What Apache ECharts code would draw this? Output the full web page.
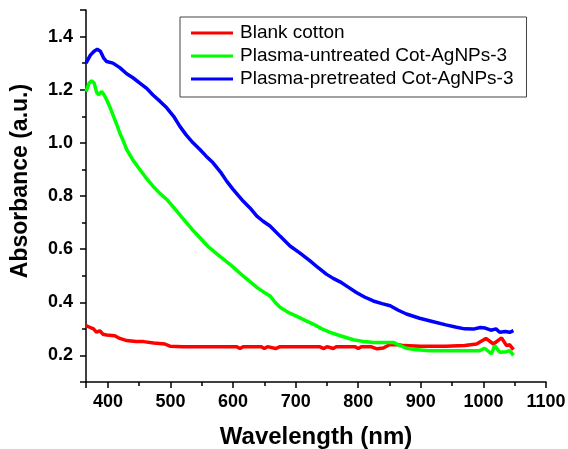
<!DOCTYPE html>
<html>
<head>
<meta charset="utf-8">
<script src="https://cdn.jsdelivr.net/npm/echarts@6/dist/echarts.min.js"></script>
<style>
  html, body { margin: 0; padding: 0; background: #fff; }
  #chart { width: 568px; height: 449px; }
</style>
</head>
<body>
<div id="chart"></div>
<script>
// series names
var seriesNames = ['Blank cotton', 'Plasma-untreated Cot-AgNPs-3', 'Plasma-pretreated Cot-AgNPs-3'];

// blank cotton (red)
var blankWl  = [365, 371, 377, 382, 387, 392, 398, 411, 419, 430, 445, 457, 473, 491, 499, 520, 560, 606, 611, 616, 645, 650, 655, 668, 675, 730, 733, 738, 745, 750, 760, 765, 795, 800, 805, 820, 830, 840, 850, 865, 872, 900, 940, 970, 989, 1004, 1016, 1029, 1037, 1042, 1048];
var blankAbs = [0.312, 0.306, 0.300, 0.287, 0.293, 0.280, 0.277, 0.274, 0.264, 0.256, 0.252, 0.252, 0.247, 0.243, 0.235, 0.233, 0.233, 0.233, 0.226, 0.233, 0.233, 0.226, 0.233, 0.226, 0.233, 0.233, 0.226, 0.233, 0.226, 0.233, 0.226, 0.233, 0.233, 0.226, 0.233, 0.233, 0.225, 0.228, 0.240, 0.240, 0.237, 0.235, 0.235, 0.237, 0.243, 0.264, 0.243, 0.266, 0.237, 0.240, 0.222];

// plasma-untreated (green)
var untreatedWl  = [365, 370, 374, 378, 382, 385, 390, 394, 398, 404, 409, 414, 419, 425, 430, 440, 451, 462, 472, 483, 494, 505, 520, 535, 547, 560, 575, 595, 606, 616, 627, 638, 648, 659, 667, 675, 688, 702, 715, 728, 742, 755, 770, 792, 810, 824, 840, 856, 867, 877, 890, 914, 950, 994, 1002, 1013, 1018, 1026, 1037, 1042, 1048];
var untreatedAbs = [1.193, 1.225, 1.234, 1.225, 1.190, 1.181, 1.193, 1.180, 1.162, 1.130, 1.100, 1.070, 1.037, 1.005, 0.975, 0.935, 0.900, 0.865, 0.837, 0.810, 0.787, 0.757, 0.715, 0.673, 0.643, 0.610, 0.580, 0.543, 0.520, 0.499, 0.478, 0.456, 0.440, 0.424, 0.400, 0.381, 0.362, 0.347, 0.332, 0.318, 0.300, 0.287, 0.275, 0.259, 0.252, 0.249, 0.249, 0.249, 0.237, 0.227, 0.222, 0.218, 0.218, 0.218, 0.227, 0.206, 0.237, 0.212, 0.214, 0.218, 0.200];

// plasma-pretreated (blue)
var pretreatedWl  = [365, 372, 378, 383, 388, 393, 398, 408, 419, 430, 440, 451, 462, 472, 483, 494, 505, 515, 525, 536, 547, 557, 568, 580, 590, 600, 616, 627, 638, 648, 659, 675, 691, 707, 723, 736, 749, 760, 771, 784, 797, 810, 824, 838, 851, 864, 877, 898, 920, 940, 957, 970, 984, 995, 1003, 1012, 1020, 1026, 1035, 1042, 1048];
var pretreatedAbs = [1.300, 1.330, 1.345, 1.352, 1.345, 1.320, 1.306, 1.300, 1.283, 1.260, 1.245, 1.225, 1.205, 1.180, 1.157, 1.132, 1.100, 1.062, 1.030, 1.000, 0.975, 0.950, 0.925, 0.890, 0.855, 0.825, 0.781, 0.755, 0.724, 0.705, 0.687, 0.649, 0.612, 0.585, 0.556, 0.530, 0.506, 0.490, 0.477, 0.457, 0.437, 0.420, 0.405, 0.395, 0.387, 0.370, 0.356, 0.340, 0.327, 0.315, 0.306, 0.300, 0.299, 0.305, 0.303, 0.295, 0.300, 0.287, 0.290, 0.287, 0.293];

var lineColors = ['#ff0000', '#00ff00', '#0000ff'];

function pairs (xs, ys) {
  var out = [];
  for (var i = 0; i < xs.length; i++) {
    out.push([xs[i], ys[i]]);
  }
  return out;
}

var seriesData = [
  pairs(blankWl, blankAbs),
  pairs(untreatedWl, untreatedAbs),
  pairs(pretreatedWl, pretreatedAbs)
];

var font = 'Liberation Sans, Arial, sans-serif';

var chart = echarts.init(document.getElementById('chart'));
chart.setOption({
  animation: false,
  grid: { left: 86, right: 22, top: 10, bottom: 67, outerBoundsMode: 'none', containLabel: false },
  legend: {
    orient: 'vertical',
    left: 180,
    top: 17,
    padding: [6, 13, 8, 11],
    itemGap: 3,
    itemWidth: 42,
    itemHeight: 3,
    icon: 'rect',
    backgroundColor: '#fff',
    borderColor: '#444',
    borderWidth: 1,
    borderRadius: 0,
    data: seriesNames,
    textStyle: { fontFamily: font, fontSize: 19, color: '#000', lineHeight: 20, padding: [0, 0, 0, 2] }
  },
  xAxis: {
    type: 'value',
    min: 365,
    max: 1100,
    splitNumber: 7,
    name: 'Wavelength (nm)',
    nameLocation: 'middle',
    nameGap: 43,
    nameTextStyle: { fontFamily: font, fontSize: 24, fontWeight: 'bold', color: '#000' },
    axisLine: { onZero: false, lineStyle: { color: '#000', width: 1.5 } },
    axisTick: { show: true, length: 6, lineStyle: { color: '#000', width: 1.5 } },
    minorTick: { show: true, splitNumber: 2, length: 4, lineStyle: { color: '#000', width: 1.5 } },
    axisLabel: {
      showMinLabel: false,
      margin: 11,
      fontFamily: font,
      fontSize: 18,
      fontWeight: 'bold',
      color: '#000',
      formatter: function (v) { return String(v); }
    },
    splitLine: { show: false }
  },
  yAxis: {
    type: 'value',
    min: 0.1,
    max: 1.5,
    splitNumber: 7,
    axisLine: { show: true, onZero: false, lineStyle: { color: '#000', width: 1.5 } },
    axisTick: { show: true, length: 6, lineStyle: { color: '#000', width: 1.5 } },
    minorTick: { show: true, splitNumber: 2, length: 4, lineStyle: { color: '#000', width: 1.5 } },
    axisLabel: {
      showMinLabel: false,
      showMaxLabel: false,
      margin: 13,
      fontFamily: font,
      fontSize: 18,
      fontWeight: 'bold',
      color: '#000',
      formatter: function (v) { return v.toFixed(1); }
    },
    splitLine: { show: false }
  },
  graphic: [{
    type: 'text',
    x: 21,
    y: 181,
    rotation: Math.PI / 2,
    style: {
      text: 'Absorbance (a.u.)',
      font: 'bold 23px ' + font,
      fill: '#000',
      textAlign: 'center',
      textVerticalAlign: 'middle'
    }
  }],
  series: seriesNames.map(function (name, i) {
    return {
      name: name,
      type: 'line',
      data: seriesData[i],
      symbol: 'none',
      color: lineColors[i],
      lineStyle: { width: 3.5, color: lineColors[i] }
    };
  })
});
</script>
</body>
</html>
